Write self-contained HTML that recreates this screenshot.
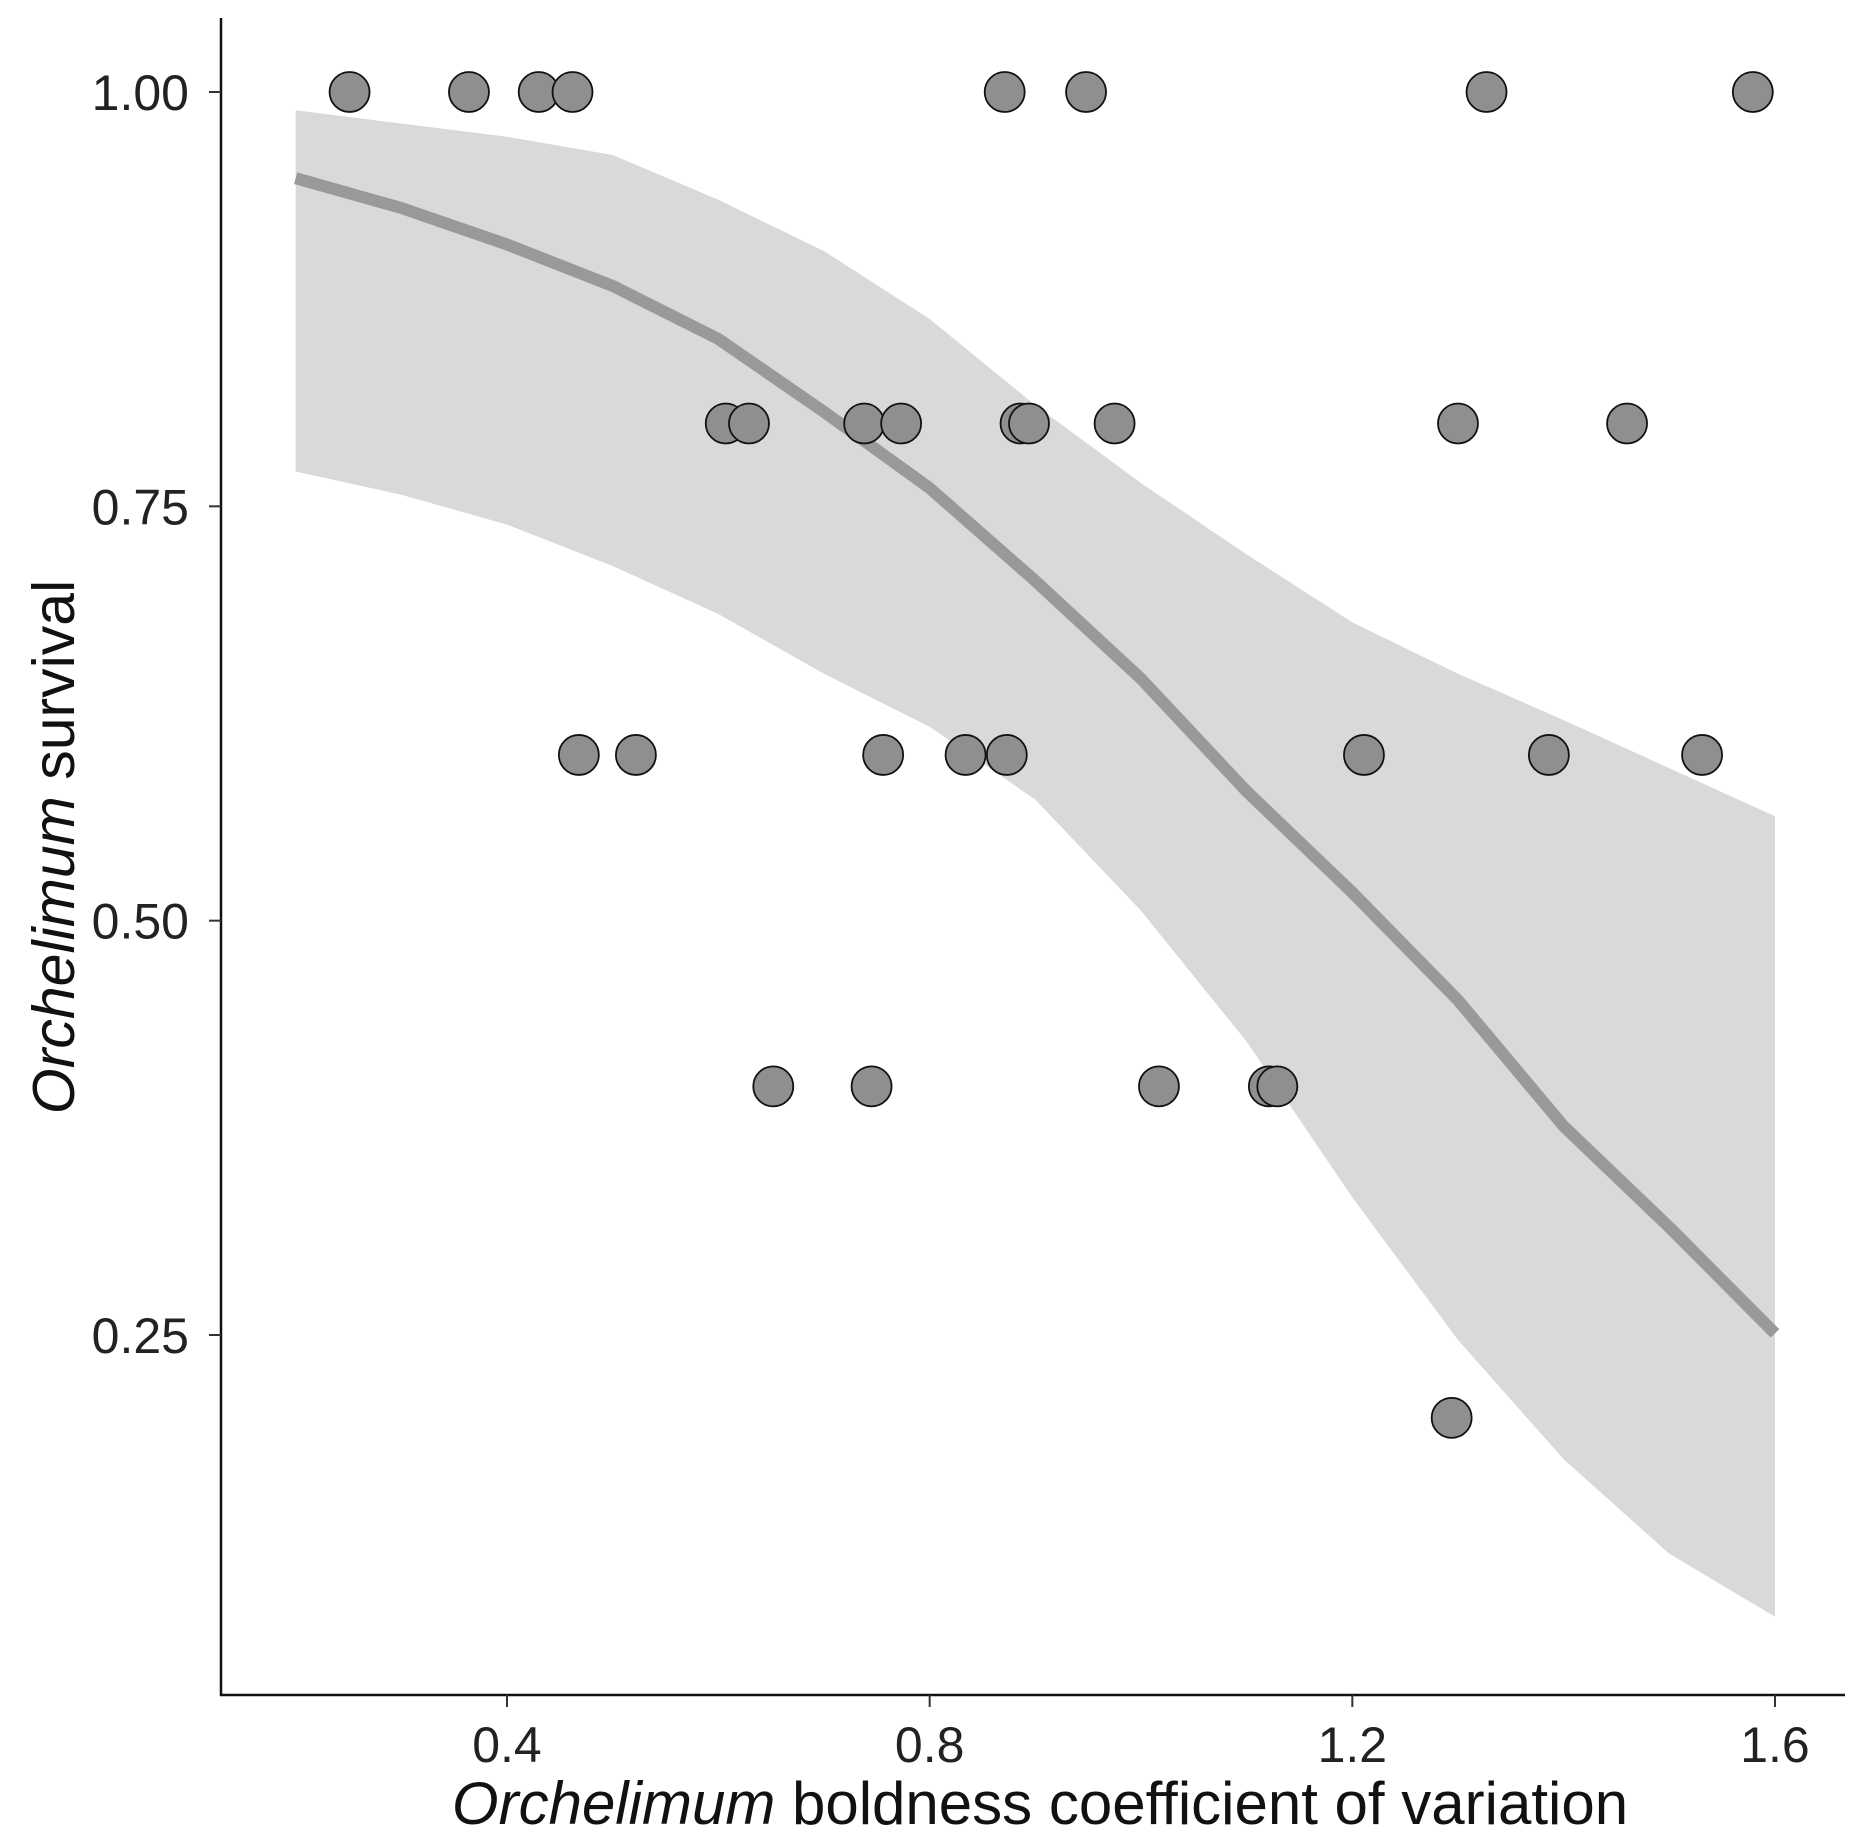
<!DOCTYPE html>
<html><head><meta charset="utf-8"><style>
html,body{margin:0;padding:0;background:#fff}
svg{display:block;font-family:"Liberation Sans",Arial,sans-serif}
</style></head><body>
<svg id="chart" width="1869" height="1848" viewBox="0 0 1869 1848" xmlns="http://www.w3.org/2000/svg">
<g id="band"></g>
<g id="fit"></g>
<g id="pts"></g>
<g id="axes"></g>
<text x="1040" y="1824" font-size="60" text-anchor="middle" fill="#111"><tspan font-style="italic">Orchelimum</tspan> boldness coefficient of variation</text>
<text transform="translate(74,847) rotate(-90)" font-size="59" text-anchor="middle" fill="#111"><tspan font-style="italic">Orchelimum</tspan> survival</text>
</svg>
<script>
const xTicks=[0.4,0.8,1.2,1.6];
const xTickLabels=["0.4","0.8","1.2","1.6"];
const yTicks=[1.0,0.75,0.5,0.25];
const yTickLabels=["1.00","0.75","0.50","0.25"];
const ptX=[0.251,0.364,0.43,0.462,0.871,0.948,1.327,1.579,
 0.607,0.629,0.738,0.773,0.886,0.894,0.975,1.30,1.46,
 0.468,0.522,0.756,0.834,0.873,1.211,1.386,1.531,
 0.652,0.745,1.017,1.121,1.129,1.294];
const ptY=[1,1,1,1,1,1,1,1,
 0.8,0.8,0.8,0.8,0.8,0.8,0.8,0.8,0.8,
 0.6,0.6,0.6,0.6,0.6,0.6,0.6,0.6,
 0.4,0.4,0.4,0.4,0.4,0.2];
const fitX=[0.2,0.3,0.4,0.5,0.6,0.7,0.8,0.9,1.0,1.1,1.2,1.3,1.4,1.5,1.6];
const fitY=[0.948,0.930,0.908,0.883,0.851,0.807,0.761,0.705,0.646,0.578,0.517,0.452,0.376,0.315,0.251];
const upperY=[0.989,0.981,0.973,0.962,0.935,0.904,0.863,0.811,0.764,0.721,0.680,0.649,0.621,0.592,0.563];
const lowerY=[0.771,0.757,0.739,0.714,0.685,0.649,0.617,0.573,0.506,0.427,0.333,0.247,0.175,0.118,0.080];

const NS="http://www.w3.org/2000/svg";
const sx=v=>507+(v-0.4)*(1775-507)/1.2;
const sy=v=>92+(1-v)*(1335-92)/0.75;
function mk(tag,attrs,parent){const e=document.createElementNS(NS,tag);for(const k in attrs)e.setAttribute(k,attrs[k]);parent.appendChild(e);return e;}

let d="";
fitX.forEach((x,i)=>{d+=(i?"L":"M")+sx(x)+","+sy(upperY[i]);});
for(let i=fitX.length-1;i>=0;i--)d+="L"+sx(fitX[i])+","+sy(lowerY[i]);
const band=mk("path",{d:d+"Z",fill:"#d9d9d9"},document.getElementById("band"));



let fd="";
fitX.forEach((x,i)=>{fd+=(i?"L":"M")+sx(x)+","+sy(fitY[i]);});
const fl=mk("path",{d:fd,fill:"none",stroke:"#999",'stroke-width':12,'stroke-linejoin':'round'},document.getElementById("fit"));



const pg=document.getElementById("pts");
ptX.forEach((x,i)=>{
 const c=mk("circle",{cx:sx(x),cy:sy(ptY[i]),r:20,fill:"#8f8f8f",stroke:"#111",'stroke-width':1.8},pg);
 
 
});

const ax=document.getElementById("axes");
const yl=mk("line",{x1:221,y1:18,x2:221,y2:1696,stroke:"#111",'stroke-width':2.5},ax);


const xl=mk("line",{x1:220,y1:1695,x2:1845,y2:1695,stroke:"#111",'stroke-width':2.5},ax);


xTicks.forEach((v,i)=>{
 const t=mk("line",{x1:sx(v),y1:1695,x2:sx(v),y2:1707,stroke:"#333",'stroke-width':2},ax);
 
 
 const l=mk("text",{x:sx(v),y:1762,'font-size':50,'text-anchor':'middle',fill:"#222"},ax);
 l.textContent=xTickLabels[i];
 
 
});
yTicks.forEach((v,i)=>{
 const t=mk("line",{x1:209,y1:sy(v),x2:221,y2:sy(v),stroke:"#333",'stroke-width':2},ax);
 
 
 const l=mk("text",{x:189,y:sy(v)+18,'font-size':50,'text-anchor':'end',fill:"#222"},ax);
 l.textContent=yTickLabels[i];
 
 
});
</script>
</body></html>
